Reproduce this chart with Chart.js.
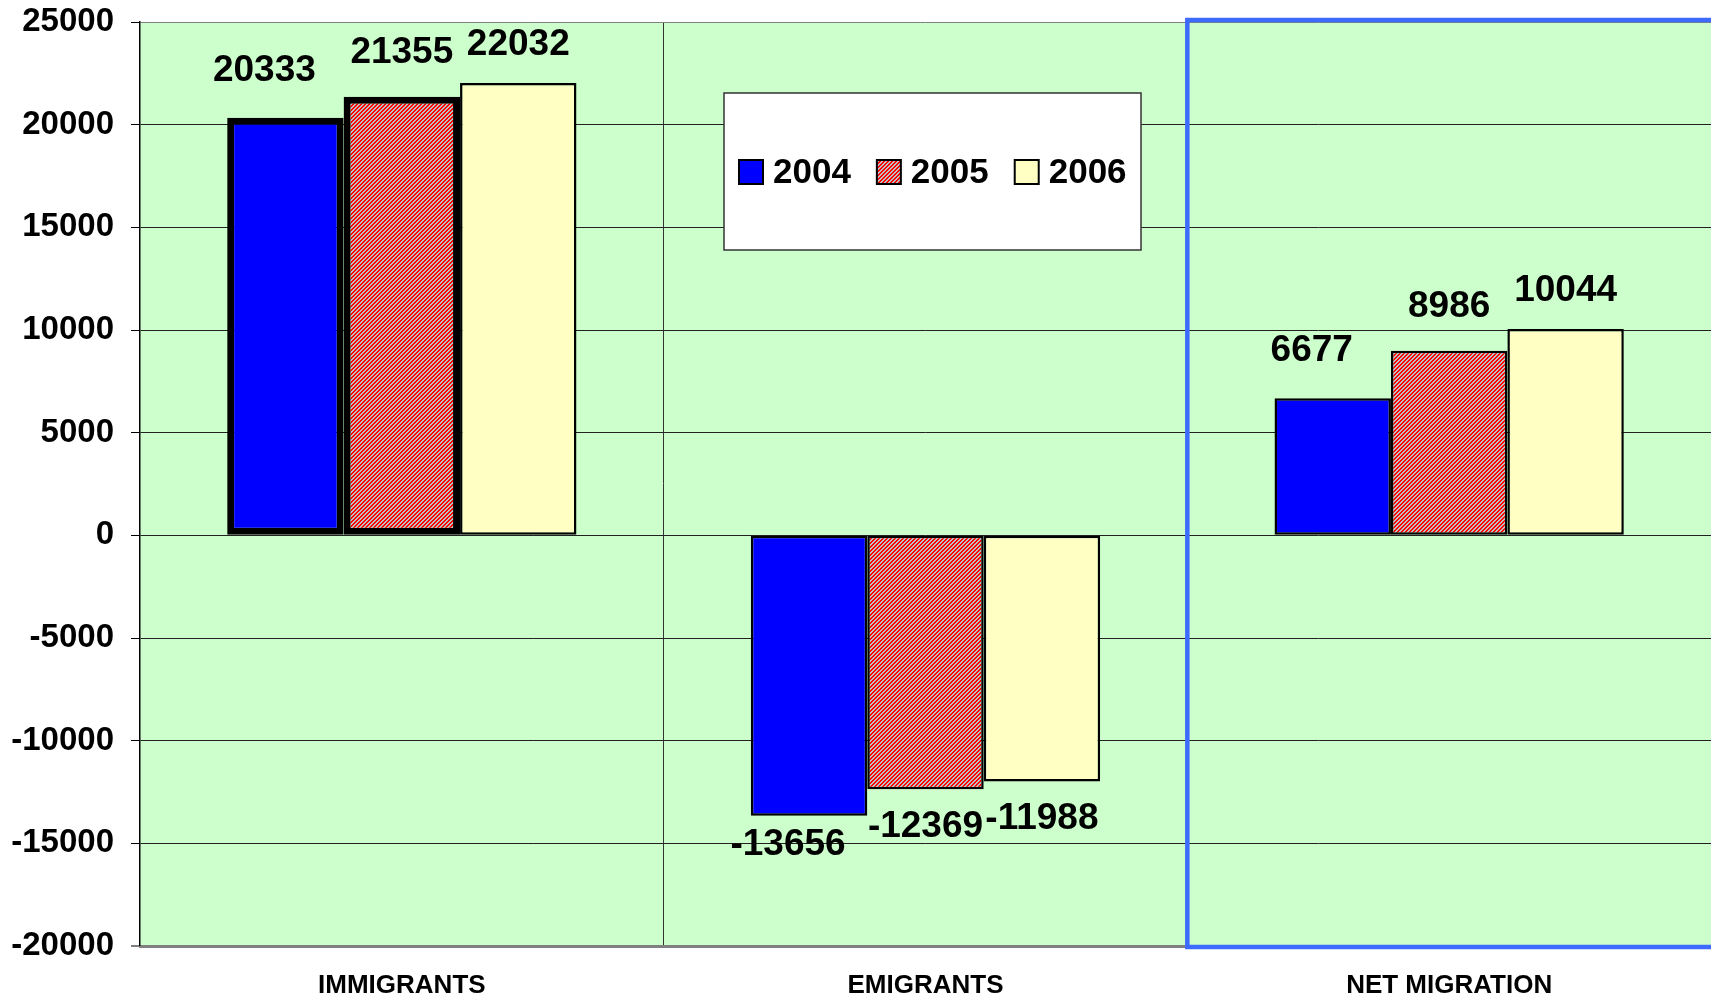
<!DOCTYPE html>
<html>
<head>
<meta charset="utf-8">
<script src="https://cdn.jsdelivr.net/npm/chart.js@4.4.1/dist/chart.umd.min.js"></script>
<style>
  html, body { margin: 0; padding: 0; background: #fff; }
  #wrap { width: 1711px; height: 999px; }
</style>
</head>
<body>
<div id="wrap"><canvas id="migrationChart" width="1711" height="999"></canvas></div>
<script>
// data
const categories = ['IMMIGRANTS', 'EMIGRANTS', 'NET MIGRATION'];
const years = ['2004', '2005', '2006'];
const values2004 = [20333, -13656, 6677];
const values2005 = [21355, -12369, 8986];
const values2006 = [22032, -11988, 10044];
const yMin = -20000;
const yMax = 25000;
const yStep = 5000;

const FONT = '"Liberation Sans", Arial, sans-serif';
Chart.defaults.font.family = FONT;
Chart.defaults.color = '#000';

const canvas = document.getElementById('migrationChart');
const ctx = canvas.getContext('2d');

// red / grey upward diagonal hatch, like the excel pattern fill
function makeHatch() {
  const tile = document.createElement('canvas');
  tile.width = 4;
  tile.height = 4;
  const g = tile.getContext('2d');
  const img = g.createImageData(4, 4);
  for (let y = 0; y < 4; y++) {
    for (let x = 0; x < 4; x++) {
      const i = (y * 4 + x) * 4;
      const red = (x + y) % 4 < 2;
      img.data[i] = red ? 255 : 192;
      img.data[i + 1] = red ? 0 : 192;
      img.data[i + 2] = red ? 0 : 192;
      img.data[i + 3] = 255;
    }
  }
  g.putImageData(img, 0, 0);
  return ctx.createPattern(tile, 'repeat');
}
const hatch = makeHatch();

// plot area background
const plotBackground = {
  id: 'plotBackground',
  beforeDraw(chart) {
    const a = chart.chartArea;
    const c = chart.ctx;
    c.save();
    c.fillStyle = '#ccffcc';
    c.fillRect(a.left, a.top, a.right - a.left, a.bottom - a.top);
    c.restore();
  }
};

// value labels over / under each bar
const labelShift = [
  { dx: -21, up: 47, down: 29 },
  { dx: 0, up: 44, down: 37 },
  { dx: 0, up: 38, down: 37 }
];
const barLabels = {
  id: 'barLabels',
  afterDatasetsDraw(chart) {
    const c = chart.ctx;
    c.save();
    c.font = 'bold 37px ' + FONT;
    c.fillStyle = '#000';
    c.textAlign = 'center';
    c.textBaseline = 'middle';
    chart.data.datasets.forEach((ds, i) => {
      const meta = chart.getDatasetMeta(i);
      const s = labelShift[i];
      meta.data.forEach((bar, j) => {
        const v = ds.data[j];
        const y = v >= 0 ? bar.y - s.up : bar.y + s.down;
        c.fillText(String(v), bar.x + s.dx, y);
      });
    });
    c.restore();
  }
};

// white legend box sitting inside the plot
const boxLegend = {
  id: 'boxLegend',
  afterDraw(chart) {
    const c = chart.ctx;
    const bx = 724, by = 93, bw = 417, bh = 157;
    c.save();
    c.fillStyle = '#fff';
    c.fillRect(bx, by, bw, bh);
    c.strokeStyle = '#333';
    c.lineWidth = 1.5;
    c.strokeRect(bx, by, bw, bh);
    c.font = 'bold 35px ' + FONT;
    c.textAlign = 'left';
    c.textBaseline = 'middle';
    const cy = 172;
    let x = 739;
    chart.data.datasets.forEach(ds => {
      c.fillStyle = ds.backgroundColor;
      c.fillRect(x, cy - 12, 24, 24);
      c.strokeStyle = '#000';
      c.lineWidth = 2;
      c.strokeRect(x, cy - 12, 24, 24);
      x += 34;
      c.fillStyle = '#000';
      c.fillText(ds.label, x, cy + 1);
      x += c.measureText(ds.label).width + 26;
    });
    c.restore();
  }
};

// blue selection frame round the last category
const selectedCategory = {
  id: 'selectedCategory',
  afterDraw(chart) {
    const xs = chart.scales.x;
    const a = chart.chartArea;
    const left = (xs.getPixelForValue(1) + xs.getPixelForValue(2)) / 2;
    const c = chart.ctx;
    c.save();
    c.strokeStyle = '#3d6bff';
    c.lineWidth = 4.5;
    c.strokeRect(left, a.top - 2, a.right + 20 - left, a.bottom - a.top + 3);
    c.restore();
  }
};

new Chart(ctx, {
  type: 'bar',
  data: {
    labels: categories,
    datasets: [{
      label: years[0],
      data: values2004,
      backgroundColor: '#0000ff',
      borderColor: '#000',
      borderWidth: [7, 2.5, 2.5],
      borderSkipped: false
    }, {
      label: years[1],
      data: values2005,
      backgroundColor: hatch,
      borderColor: '#000',
      borderWidth: [7, 2.5, 2.5],
      borderSkipped: false
    }, {
      label: years[2],
      data: values2006,
      backgroundColor: '#ffffc4',
      borderColor: '#000',
      borderWidth: 2.5,
      borderSkipped: false
    }]
  },
  options: {
    responsive: false,
    animation: false,
    layout: {
      padding: { top: 22, right: 0, bottom: 0, left: 0 }
    },
    datasets: {
      bar: {
        categoryPercentage: 0.667,
        barPercentage: 1
      }
    },
    scales: {
      x: {
        offset: true,
        grid: {
          offset: true,
          color: '#333',
          lineWidth: 1,
          drawTicks: false
        },
        border: { color: '#808080', width: 3 },
        ticks: {
          padding: 24,
          font: { size: 26, weight: 'bold' },
          color: '#000'
        },
        afterFit(scale) {
          scale.height = 53;
        }
      },
      y: {
        min: yMin,
        max: yMax,
        grid: {
          color: c => (c.tick && c.tick.value === yMax) ? '#808080' : '#222',
          lineWidth: c => (c.tick && c.tick.value === yMin) ? 0 : 1,
          tickColor: '#000',
          tickWidth: 1,
          tickLength: 9
        },
        border: { color: '#000', width: 1.5 },
        ticks: {
          stepSize: yStep,
          padding: 17,
          font: { size: 33, weight: 'bold' },
          color: '#000',
          callback: v => String(v)
        },
        afterFit(scale) {
          scale.width = 140;
          // let the plot reach up to the layout padding
          scale.paddingTop = 0;
          scale.paddingBottom = 0;
        }
      }
    },
    plugins: {
      legend: {
        display: false // drawn by boxLegend
      },
      tooltip: { enabled: false }
    }
  },
  plugins: [plotBackground, barLabels, boxLegend, selectedCategory]
});
</script>
</body>
</html>
